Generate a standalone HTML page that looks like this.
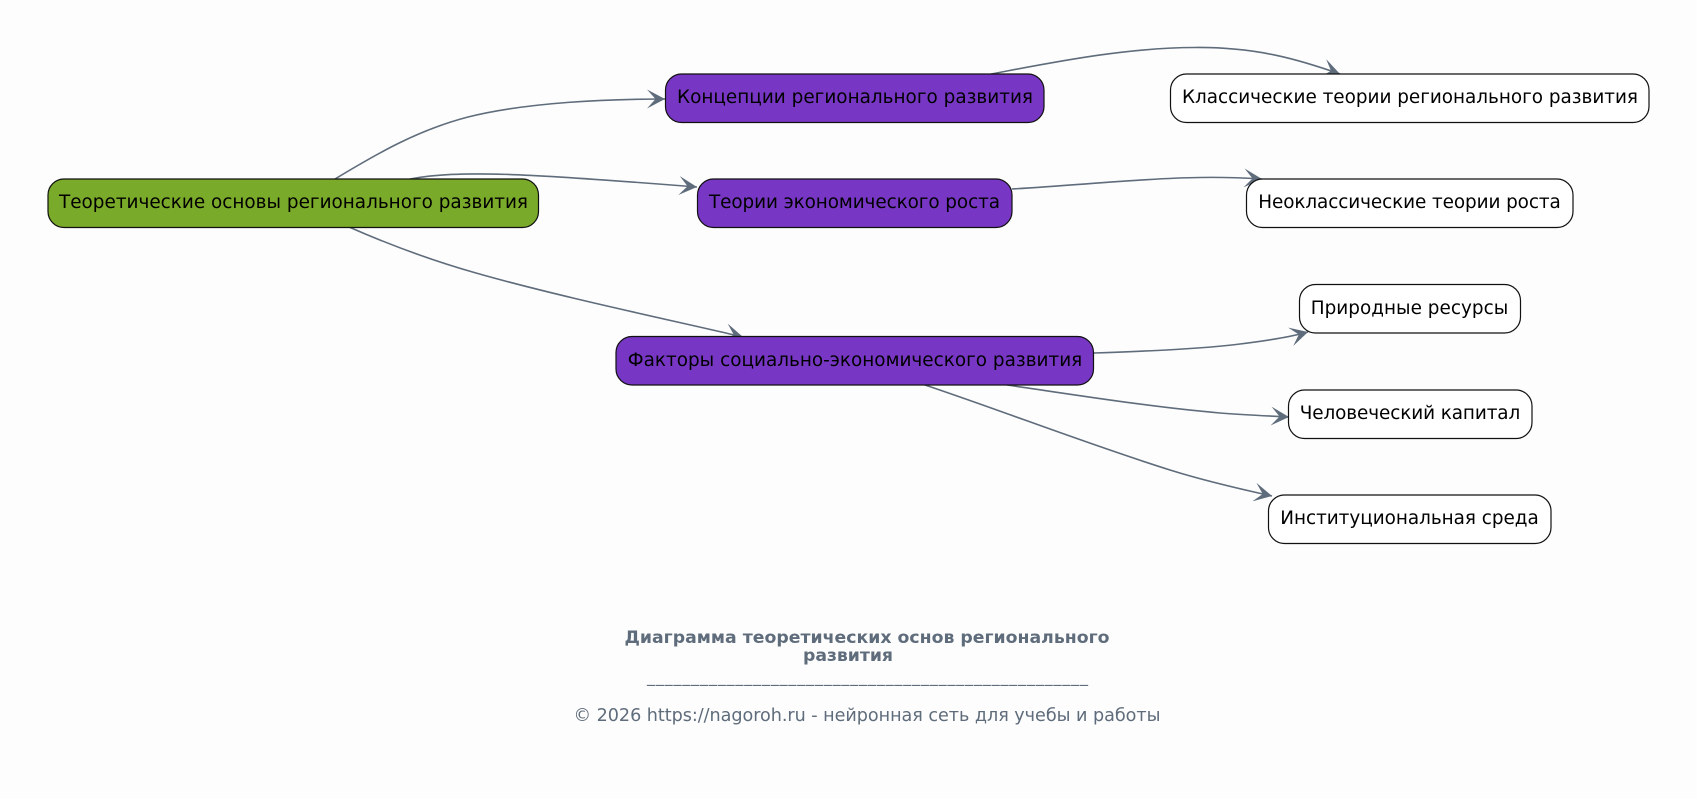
<!DOCTYPE html>
<html lang="ru">
<head>
<meta charset="utf-8">
<style>
html,body{margin:0;padding:0;background:#fdfdfd;width:1697px;height:799px;overflow:hidden}
svg{display:block}
text{font-family:"DejaVu Sans",sans-serif}
.n{font-size:18.400px;fill:#000;text-anchor:middle}
.b{stroke:#111;stroke-width:1.2}
.e{fill:none;stroke:#5f6c7b;stroke-width:1.600}
</style>
</head>
<body>
<svg width="1697" height="799" viewBox="0 0 1697 799" xmlns="http://www.w3.org/2000/svg">
<defs>
<marker id="a" markerUnits="userSpaceOnUse" markerWidth="26" markerHeight="26" refX="22" refY="13" orient="auto">
<path d="M22,13 L4,3.500 L12.500,13 L4,22.500 Z" fill="#5f6c7b"/>
</marker>
</defs>
<rect width="1697" height="799" fill="#fdfdfd"/>

<path class="e" marker-end="url(#a)" d="M335,179 C378,153 418,130 468,117 C528,102 610,99 665,99"/>
<path class="e" marker-end="url(#a)" d="M410,179 C460,170 520,173 697,187"/>
<path class="e" marker-end="url(#a)" d="M349,227 C390,245 430,260 476,273 C560,297 680,322 743,337"/>
<path class="e" marker-end="url(#a)" d="M991,74 C1050,63 1125,47.500 1195,47.500 C1258,47 1300,60 1340,74"/>
<path class="e" marker-end="url(#a)" d="M1012,189 C1080,185 1150,178 1200,177.500 C1225,177 1245,178 1262,179"/>
<path class="e" marker-end="url(#a)" d="M1094,353 C1150,351 1200,349 1240,344 C1265,341 1290,337 1308,332"/>
<path class="e" marker-end="url(#a)" d="M1007,385 C1070,394 1150,407 1220,413 C1245,415 1270,416 1289,417"/>
<path class="e" marker-end="url(#a)" d="M925,385 C1000,410 1090,445 1170,470 C1205,481 1240,489 1272,496"/>

<rect class="b" x="48" y="179" width="490.500" height="48.500" rx="16" fill="#7aaa29"/>
<text class="n" x="293.500" y="208" textLength="469">Теоретические основы регионального развития</text>

<rect class="b" x="665.500" y="74" width="378.500" height="48.500" rx="16" fill="#7737c4"/>
<text class="n" x="855" y="103" textLength="356">Концепции регионального развития</text>
<rect class="b" x="697.500" y="179" width="314.500" height="48.500" rx="16" fill="#7737c4"/>
<text class="n" x="854.500" y="208" textLength="291">Теории экономического роста</text>
<rect class="b" x="616" y="336.500" width="477.500" height="48.500" rx="16" fill="#7737c4"/>
<text class="n" x="855" y="366" textLength="454.500">Факторы социально-экономического развития</text>

<rect class="b" x="1170.500" y="74" width="478.500" height="48.500" rx="16" fill="#fff"/>
<text class="n" x="1410" y="103" textLength="456">Классические теории регионального развития</text>
<rect class="b" x="1246.500" y="179" width="326.500" height="48.500" rx="16" fill="#fff"/>
<text class="n" x="1409.500" y="208" textLength="302.500">Неоклассические теории роста</text>
<rect class="b" x="1299.500" y="284.500" width="221" height="48.500" rx="16" fill="#fff"/>
<text class="n" x="1409.500" y="314" textLength="197.500">Природные ресурсы</text>
<rect class="b" x="1288.500" y="390" width="243.500" height="48.500" rx="16" fill="#fff"/>
<text class="n" x="1410" y="419" textLength="220.500">Человеческий капитал</text>
<rect class="b" x="1268.500" y="495" width="282.500" height="48.500" rx="16" fill="#fff"/>
<text class="n" x="1409.500" y="524" textLength="258.500">Институциональная среда</text>

<text x="867" y="643" text-anchor="middle" font-size="17.300" font-weight="bold" fill="#5f6c7b" textLength="485">Диаграмма теоретических основ регионального</text>
<text x="848" y="661" text-anchor="middle" font-size="17.300" font-weight="bold" fill="#5f6c7b" textLength="90">развития</text>
<text x="867.500" y="682" text-anchor="middle" font-size="16" fill="#5f6c7b" textLength="441">__________________________________________________</text>
<text x="867" y="721" text-anchor="middle" font-size="17.600" fill="#5f6c7b" textLength="587">© 2026 https://nagoroh.ru - нейронная сеть для учебы и работы</text>
</svg>
</body>
</html>
